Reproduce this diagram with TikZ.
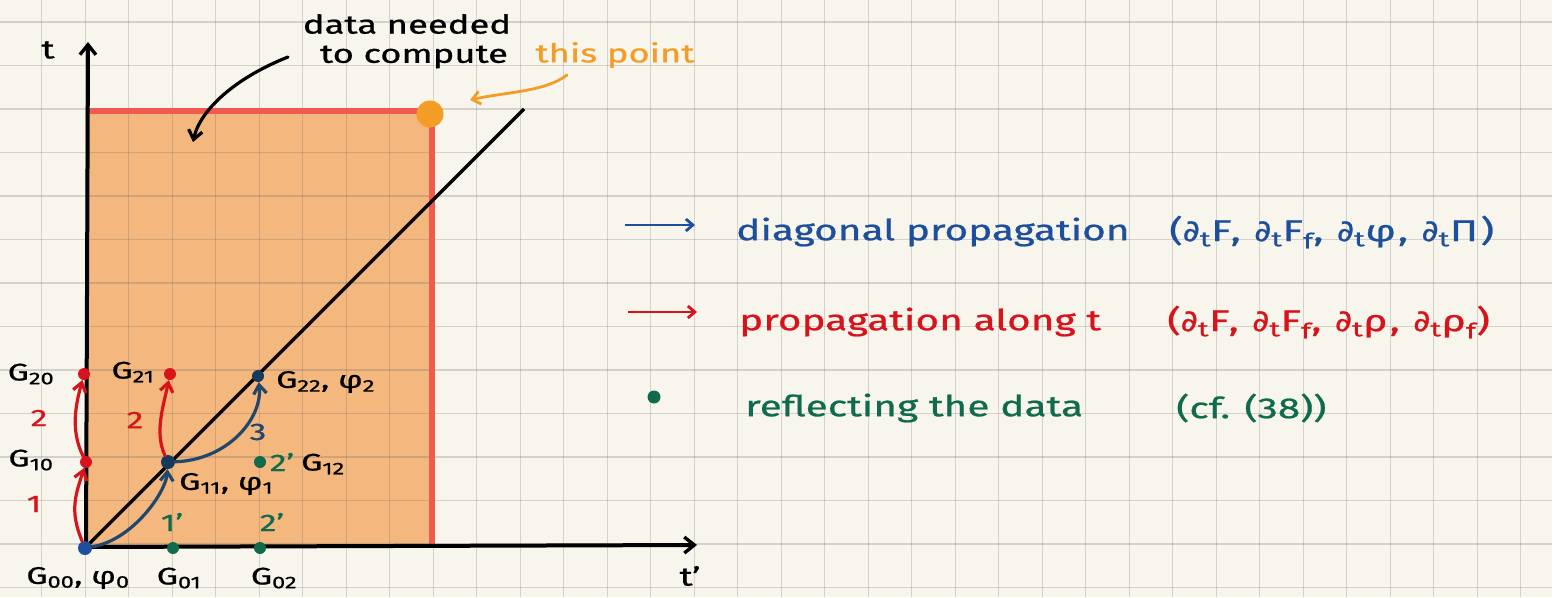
\documentclass[tikz,border=0pt]{standalone}
\usepackage{fontspec}
\setmainfont{Fira Sans}[FakeStretch=1.4,FakeBold=0.8]
\newfontfamily\djv{DejaVu Sans}[FakeStretch=1.1,FakeBold=0.8]
\usetikzlibrary{arrows.meta}
\definecolor{bg}{HTML}{F8F6EC}
\definecolor{fillor}{HTML}{F4B77E}
\definecolor{redline}{HTML}{F15A4F}
\definecolor{dotor}{HTML}{F39C26}
\definecolor{navy}{HTML}{163A5C}
\definecolor{arrblue}{HTML}{21486A}
\definecolor{legblue}{HTML}{1E4F9C}
\definecolor{hred}{HTML}{D7141C}
\definecolor{hgreen}{HTML}{0F6B4C}
\newcommand{\pd}{{\djv ∂}}
\tikzset{
  dot/.style={circle,inner sep=0pt,minimum size=12pt},
  lab/.style={inner sep=1pt,font=\fontsize{24}{26}\selectfont},
  ann/.style={inner sep=1pt,font=\fontsize{26}{28}\selectfont},
  big/.style={inner sep=1pt,font=\fontsize{29}{31}\selectfont},
  par/.style={inner sep=1pt,font=\fontsize{30}{32}\selectfont\addfontfeature{LetterSpace=8}},
  tip/.style={-{Straight Barb[length=9pt,width=13pt,line width=3.2pt]}},
  redarr/.style={tip,draw=hred,line width=3.2pt,line cap=round},
  bluearr/.style={tip,draw=arrblue,line width=3.2pt,line cap=round},
}
\begin{document}
\begin{tikzpicture}[x=1pt,y=-1pt]
\useasboundingbox (0,0) rectangle (1552,597);
\fill[bg] (0,0) rectangle (1552,597);
% data region
\fill[fillor] (88,111) rectangle (432,546);
% grid
\begin{scope}[draw=black!60,opacity=0.25,line width=1.3pt]
\foreach \i in {0,...,36} \draw (-1.8+43.5*\i,0) -- (-1.8+43.5*\i,597);
\foreach \j in {0,...,14} \draw (0,-21.5+43.5*\j) -- (1552,-21.5+43.5*\j);
\end{scope}
\draw[redline,line width=6pt] (88,111) -- (432,111) -- (432,546);
% axes
\coordinate (o) at (85,548);
\coordinate (ttop) at (88,42);
\coordinate (tpr) at (697,545);
\draw[black,line width=4pt,-{Straight Barb[length=10pt,width=16pt,line width=3.4pt]}] (86,548) -- (ttop);
\draw[black,line width=4pt,-{Straight Barb[length=10pt,width=16pt,line width=3.4pt]}] (85,547) -- (tpr);
\draw[black,line width=3.2pt] (o) -- (524,109);
\node[ann] (tlab) at (48,50) {t};
\node[ann] (tplab) at (690,576) {t'};
% points
\node[dot,fill=legblue,minimum size=14pt] (g00) at (85,548) {};
\node[dot,fill=hred] (g10) at (86,462) {};
\node[dot,fill=hred] (g20) at (84,374) {};
\node[dot,fill=hred] (g21) at (170,374) {};
\node[dot,fill=navy,minimum size=14pt] (g11) at (168,462) {};
\node[dot,fill=navy] (g22) at (258,376) {};
\node[dot,fill=hgreen] (g12) at (260,462) {};
\node[dot,fill=hgreen] (g01) at (173,548) {};
\node[dot,fill=hgreen] (g02) at (260,548) {};
\node[dot,fill=dotor,minimum size=27pt] (P) at (430,114) {};
% labels
\node[lab] (l20) at (31,374) {G\textsubscript{20}};
\node[lab] (l10) at (31,460) {G\textsubscript{10}};
\node[lab] (l21) at (133,372) {G\textsubscript{21}};
\node[lab,anchor=west] (l11) at (178,484) {G\textsubscript{11}, φ\textsubscript{1}};
\node[lab,anchor=west] (l22) at (275,382) {G\textsubscript{22}, φ\textsubscript{2}};
\node[lab,anchor=west] (l12) at (300,464) {G\textsubscript{12}};
\node[lab] (l00) at (78,578) {G\textsubscript{00}, φ\textsubscript{0}};
\node[lab] (l01) at (179,578) {G\textsubscript{01}};
\node[lab] (l02) at (274,578) {G\textsubscript{02}};
\node[lab,text=hgreen] (p1) at (172,522) {1'};
\node[lab,text=hgreen] (p2) at (272,522) {2'};
\node[lab,text=hgreen] (p3) at (282,462) {2'};
\node[lab,text=hred] (n1) at (34,504) {1};
\node[lab,text=hred] (n2) at (39,418) {2};
\node[lab,text=hred] (n3) at (135,420) {2};
\node[lab,text=arrblue] (n4) at (258,432) {3};
% arrows
\draw[redarr] (g00) .. controls +(-16,-38) and +(-10,32) .. (g10);
\draw[redarr] (g10) .. controls +(-16,-32) and +(-8,30) .. (g20);
\draw[redarr] (g11) .. controls +(-14,-30) and +(-6,30) .. (g21);
\draw[bluearr] (g00) .. controls +(48,-8) and +(-2,30) .. (g11);
\draw[bluearr] (g11) .. controls +(60,-2) and +(5,42) .. (g22);
% annotations
\node[ann] (ann1) at (407,24) {data needed};
\node[ann] (ann2) at (414,57) {to compute};
\node[ann,text=dotor] (ann3) at (615,55) {this point};
\coordinate (a1s) at (288,57);
\coordinate (a1e) at (193,142);
\draw[black,line width=3.2pt,line cap=round,-{Straight Barb[length=9pt,width=14pt,line width=3.2pt]}] (a1s) .. controls (235,78) and (200,110) .. (a1e);
\coordinate (a2s) at (567,75);
\coordinate (a2e) at (470,100);
\draw[dotor,line width=2.8pt,line cap=round,-{Straight Barb[length=8pt,width=13pt,line width=2.8pt]}] (a2s) .. controls (545,92) and (505,92) .. (a2e);
% legend
\coordinate (lb1) at (625,225);
\coordinate (lb2) at (695,225);
\draw[legblue,line width=2.8pt,-{Straight Barb[length=7pt,width=12pt,line width=2.8pt]}] (lb1) -- (lb2);
\node[big,text=legblue,anchor=west] (t1) at (735,232) {diagonal propagation};
\node[par,text=legblue,anchor=west] (t1b) at (1168,232) {(\pd\textsubscript{t}F, \pd\textsubscript{t}F\textsubscript{f}, \pd\textsubscript{t}φ, \pd\textsubscript{t}Π)};
\coordinate (lr1) at (628,312);
\coordinate (lr2) at (697,312);
\draw[hred,line width=2.8pt,-{Straight Barb[length=7pt,width=12pt,line width=2.8pt]}] (lr1) -- (lr2);
\node[big,text=hred,anchor=west] (t2) at (738,322) {propagation along t};
\node[par,text=hred,anchor=west] (t2b) at (1166,322) {(\pd\textsubscript{t}F, \pd\textsubscript{t}F\textsubscript{f}, \pd\textsubscript{t}ρ, \pd\textsubscript{t}ρ\textsubscript{f})};
\node[dot,fill=hgreen,minimum size=13pt] (lg) at (654,397) {};
\node[big,text=hgreen,anchor=west] (t3) at (744,408) {reflecting the data};
\node[big,text=hgreen,anchor=west] (t3b) at (1175,408) {(cf. (38))};
\end{tikzpicture}
\end{document}
